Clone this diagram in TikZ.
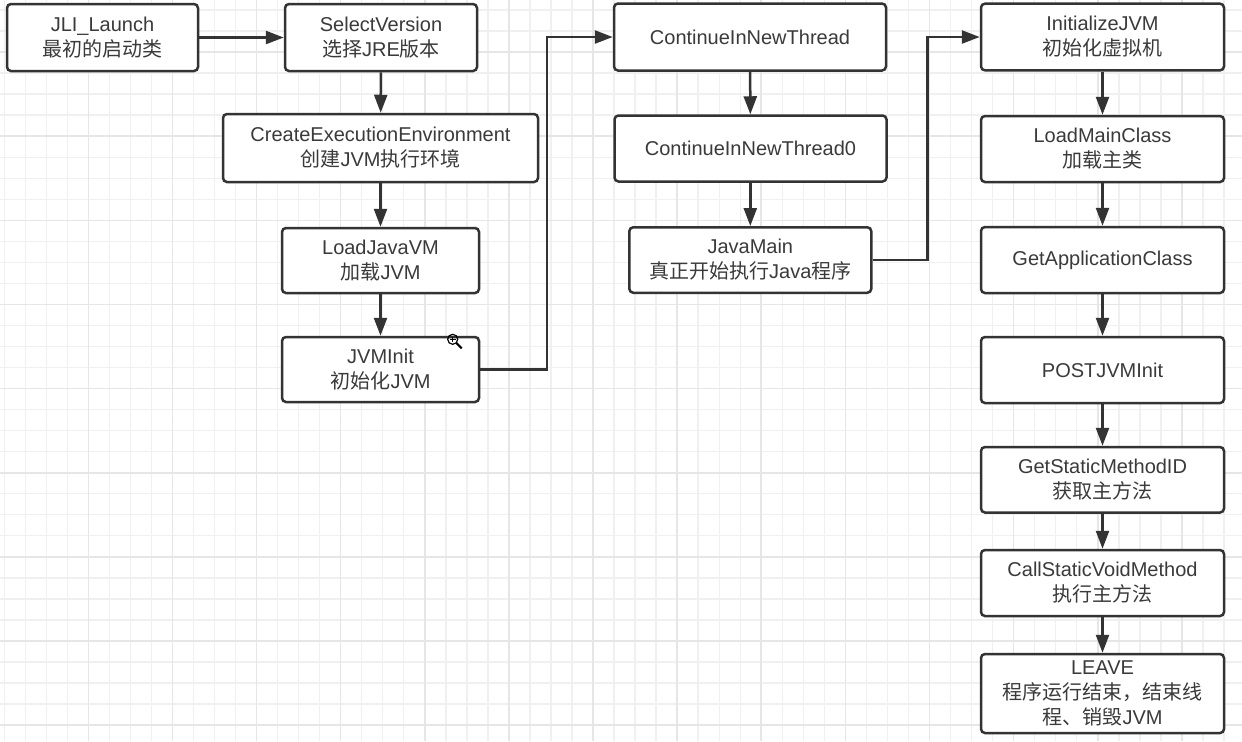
\documentclass[tikz,border=0pt]{standalone}
\usepackage{fontspec}
\setmainfont{Liberation Sans}
\newfontfamily\cjk{Noto Sans CJK SC}
\usetikzlibrary{arrows.meta,calc}
\definecolor{ink}{HTML}{333333}
\definecolor{label}{HTML}{3A3A3A}
\definecolor{gridminor}{HTML}{F0F0F0}
\definecolor{gridmajor}{HTML}{E6E6E6}
\tikzset{
  x=0.5pt, y=-0.5pt,
  flowbox/.style={draw=ink, line width=1.25pt, rounded corners=2pt, fill=white,
    text=label, align=center, inner sep=0pt,
    font=\fontsize{10}{12.5}\selectfont},
  flow/.style={draw=ink, line width=1.25pt, -{Triangle[length=9pt,width=6.5pt]}},
}
\begin{document}
\begin{tikzpicture}
\useasboundingbox (0,0) rectangle (1242,741);
\fill[white] (0,0) rectangle (1242,741);
% background grid, minor and major lines
\foreach \i in {0,...,59} {
  \draw[gridminor, line width=0.7pt] ({4.2+21.03*\i},0) -- ({4.2+21.03*\i},741);
}
\foreach \i in {0,...,35} {
  \draw[gridminor, line width=0.7pt] (0,{10.0+21.03*\i}) -- (1242,{10.0+21.03*\i});
}
\foreach \i in {0,...,14} {
  \draw[gridmajor, line width=0.8pt] ({88.3+84.12*\i},0) -- ({88.3+84.12*\i},741);
}
\foreach \i in {0,...,8} {
  \draw[gridmajor, line width=0.8pt] (0,{52.1+84.12*\i}) -- (1242,{52.1+84.12*\i});
}

% first column
\node[flowbox, minimum width=95.5pt, minimum height=33.5pt] (jli) at (102.5,37.5)
  {JLI\_Launch\\{\cjk 最初的启动类}};
\node[flowbox, minimum width=96pt, minimum height=33.5pt] (sel) at (381,37.5)
  {SelectVersion\\{\cjk 选择}JRE{\cjk 版本}};
\node[flowbox, minimum width=157.5pt, minimum height=34pt] (cee) at (380.5,148)
  {CreateExecutionEnvironment\\{\cjk 创建}JVM{\cjk 执行环境}};
\node[flowbox, minimum width=98.5pt, minimum height=32.5pt] (ljv) at (380.5,260.5)
  {LoadJavaVM\\{\cjk 加载}JVM};
\node[flowbox, minimum width=98.5pt, minimum height=32.5pt] (jvi) at (380.5,369.5)
  {JVMInit\\{\cjk 初始化}JVM};

% second column
\node[flowbox, minimum width=136pt, minimum height=33.5pt] (cnt) at (750,37)
  {ContinueInNewThread};
\node[flowbox, minimum width=136pt, minimum height=33pt] (cnt0) at (750.5,148.5)
  {ContinueInNewThread0};
\node[flowbox, minimum width=121pt, minimum height=32.75pt] (jm) at (750.3,260)
  {JavaMain\\{\cjk 真正开始执行}Java{\cjk 程序}};

% third column
\node[flowbox, minimum width=121.5pt, minimum height=33.35pt] (ijvm) at (1102.5,37)
  {InitializeJVM\\{\cjk 初始化虚拟机}};
\node[flowbox, minimum width=121.5pt, minimum height=33pt] (lmc) at (1102.5,149)
  {LoadMainClass\\{\cjk 加载主类}};
\node[flowbox, minimum width=121.5pt, minimum height=33pt] (gac) at (1102.5,260)
  {GetApplicationClass};
\node[flowbox, minimum width=121.5pt, minimum height=33pt] (pji) at (1102.5,370)
  {POSTJVMInit};
\node[flowbox, minimum width=121.5pt, minimum height=32.75pt] (gsm) at (1102.5,479.75)
  {GetStaticMethodID\\{\cjk 获取主方法}};
\node[flowbox, minimum width=121.5pt, minimum height=33pt] (csv) at (1102.5,583)
  {CallStaticVoidMethod\\{\cjk 执行主方法}};
\node[flowbox, minimum width=121.5pt, minimum height=39.5pt] (leave) at (1102.5,693.5)
  {LEAVE\\{\cjk 程序运行结束，结束线}\\{\cjk 程、销毁}JVM};

% connectors
\draw[flow] (jli) -- (sel);
\draw[flow] (sel) -- (cee);
\draw[flow] (cee) -- (ljv);
\draw[flow] (ljv) -- (jvi);
\draw[flow] (jvi.east) -- (547,369.5) |- (cnt.west);
\draw[flow] (cnt) -- (cnt0);
\draw[flow] (cnt0.south -| jm.north) -- (jm.north);
\draw[flow] (jm.east) -- (927.7,260) |- (ijvm.west);
\draw[flow] (ijvm) -- (lmc);
\draw[flow] (lmc) -- (gac);
\draw[flow] (gac) -- (pji);
\draw[flow] (pji) -- (gsm);
\draw[flow] (gsm) -- (csv);
\draw[flow] (csv) -- (leave);

% zoom cursor
\coordinate (lens) at (452.7,339.3);
\draw[black, line width=0.6pt] (lens) circle[radius=5];
\draw[black, line width=0.6pt] ($(lens)+(-2.8,0)$) -- ($(lens)+(2.8,0)$);
\draw[black, line width=0.6pt] ($(lens)+(0,-2.8)$) -- ($(lens)+(0,2.8)$);
\draw[black, line width=1.1pt] ($(lens)+(3.6,3.6)$) -- ($(lens)+(9,9)$);
\end{tikzpicture}
\end{document}
